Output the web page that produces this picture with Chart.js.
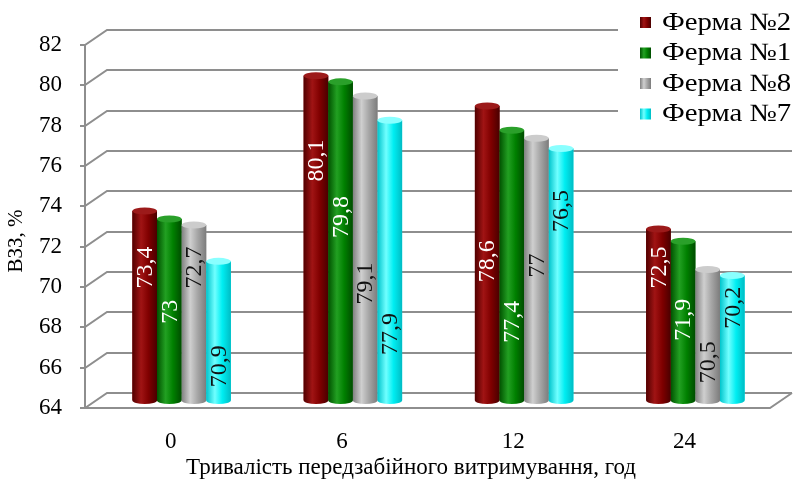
<!DOCTYPE html>
<html>
<head>
<meta charset="utf-8">
<script src="https://cdn.jsdelivr.net/npm/chart.js@4.4.1/dist/chart.umd.min.js"></script>
<style>
  body { margin: 0; background: #fff; }
  #wrap { width: 796px; height: 479px; }
</style>
</head>
<body>
<div id="wrap"><canvas id="bar-chart"></canvas></div>
<script>
const hours = ["0", "6", "12", "24"];
const farms = ["Ферма №2", "Ферма №1", "Ферма №8", "Ферма №7"];
const farm2 = [73.4, 80.1, 78.6, 72.5];
const farm1 = [73, 79.8, 77.4, 71.9];
const farm8 = [72.7, 79.1, 77, 70.5];
const farm7 = [70.9, 77.9, 76.5, 70.2];
const yTicks = [64, 66, 68, 70, 72, 74, 76, 78, 80, 82];

// where each value label is centred along its bar, in axis units
const labelAt = [
  [70.6, 75.9, 70.9, 70.6],
  [68.4, 73.1, 67.9, 68.0],
  [70.6, 69.8, 70.7, 65.9],
  [65.7, 67.3, 73.4, 68.6]
];

const serif = '"Liberation Serif", "Times New Roman", serif';
const depth = { dx: 22, dy: -15 };

// body colour, cylinder shading (edge, highlight, edge), top cap, label colour
const looks = [
  { base: "#800000", edge: "#520000", light: "#a01414", edge2: "#4a0000", cap: "#9c1a1a", text: "#ffffff" },
  { base: "#008000", edge: "#005200", light: "#22a022", edge2: "#004c00", cap: "#2aa02a", text: "#ffffff" },
  { base: "#a6a6a6", edge: "#808080", light: "#cfcfcf", edge2: "#7c7c7c", cap: "#cccccc", text: "#111111" },
  { base: "#00eef2", edge: "#00c4cc", light: "#70ffff", edge2: "#00bcc4", cap: "#8affff", text: "#111111" }
];

const fmt = v => String(v).replace(".", ",");

function shade(ctx, left, right, look) {
  const g = ctx.createLinearGradient(left, 0, right, 0);
  g.addColorStop(0, look.edge);
  g.addColorStop(0.35, look.light);
  g.addColorStop(0.65, look.base);
  g.addColorStop(1, look.edge2);
  return g;
}

const box3d = {
  id: "box3d",
  beforeDatasetsDraw(chart) {
    const { ctx, chartArea: a, scales: { y } } = chart;
    ctx.save();
    ctx.strokeStyle = "#8e8e8e";
    ctx.lineWidth = 2;
    yTicks.forEach(v => {
      const py = Math.round(y.getPixelForValue(v));
      ctx.beginPath();
      ctx.moveTo(a.left - 5, py);
      ctx.lineTo(a.left, py);
      ctx.lineTo(a.left + depth.dx, py + depth.dy);
      ctx.lineTo(a.right + depth.dx, py + depth.dy);
      ctx.stroke();
    });
    ctx.beginPath();
    ctx.moveTo(a.left, a.top);
    ctx.lineTo(a.left, a.bottom);
    ctx.lineTo(a.right, a.bottom);
    ctx.lineTo(a.right + depth.dx, a.bottom + depth.dy);
    ctx.stroke();
    ctx.restore();
    // bars stand halfway into the box
    ctx.save();
    ctx.translate(depth.dx / 2, depth.dy / 2);
  },
  afterDatasetsDraw(chart) {
    const { ctx, scales: { y } } = chart;
    chart.data.datasets.forEach((ds, i) => {
      const look = looks[i];
      chart.getDatasetMeta(i).data.forEach((bar, j) => {
        const w = bar.width, left = bar.x - w / 2, right = bar.x + w / 2;
        const ry = 3.5;
        ctx.fillStyle = shade(ctx, left, right, look);
        ctx.beginPath();
        ctx.moveTo(left, bar.y);
        ctx.lineTo(left, bar.base);
        ctx.ellipse(bar.x, bar.base, w / 2, ry, 0, Math.PI, 0, true);
        ctx.lineTo(right, bar.y);
        ctx.closePath();
        ctx.fill();
        ctx.fillStyle = look.cap;
        ctx.beginPath();
        ctx.ellipse(bar.x, bar.y, w / 2, ry, 0, 0, Math.PI * 2);
        ctx.fill();

        ctx.save();
        ctx.translate(bar.x + 1, y.getPixelForValue(labelAt[i][j]));
        ctx.rotate(-Math.PI / 2);
        ctx.fillStyle = look.text;
        ctx.font = "24px " + serif;
        ctx.textAlign = "center";
        ctx.textBaseline = "middle";
        ctx.fillText(fmt(ds.data[j]), 0, 0);
        ctx.restore();
      });
    });
    ctx.restore();
  },
  afterDraw(chart) {
    const { ctx } = chart;
    ctx.save();
    // legend box sits over the top right of the back wall
    ctx.fillStyle = "#ffffff";
    ctx.fillRect(618, 0, 178, 138);
    ctx.font = "25px " + serif;
    ctx.textBaseline = "middle";
    chart.data.datasets.forEach((ds, i) => {
      const cy = 22 + i * 30.5;
      ctx.fillStyle = shade(ctx, 640, 651, looks[i]);
      ctx.fillRect(640, cy - 5, 11, 11);
      ctx.save();
      ctx.translate(662, cy + 1);
      ctx.scale(1.15, 1);
      ctx.fillStyle = "#000";
      ctx.fillText(ds.label, 0, 0);
      ctx.restore();
    });

    ctx.fillStyle = "#000";
    ctx.textAlign = "center";
    ctx.font = "23px " + serif;
    ctx.fillText("Тривалість передзабійного витримування, год", 411, 468);
    ctx.translate(16, 241);
    ctx.rotate(-Math.PI / 2);
    ctx.font = "21px " + serif;
    ctx.fillText("ВЗЗ, %", 0, 0);
    ctx.restore();
  }
};

const series = [farm2, farm1, farm8, farm7];

new Chart(document.getElementById("bar-chart"), {
  type: "bar",
  data: {
    labels: hours,
    datasets: series.map((values, i) => ({
      label: farms[i],
      data: values,
      base: 64,
      backgroundColor: looks[i].base,
      borderWidth: 0
    }))
  },
  options: {
    responsive: true,
    maintainAspectRatio: false,
    animation: false,
    layout: { padding: { top: 45, right: 26, left: 0, bottom: 0 } },
    datasets: { bar: { categoryPercentage: 0.575, barPercentage: 1 } },
    plugins: { legend: { display: false }, tooltip: { enabled: false } },
    scales: {
      x: {
        grid: { display: false, drawTicks: false },
        border: { display: false },
        ticks: { color: "#000", padding: 20, font: { family: serif, size: 23 } },
        afterFit(scale) { scale.height = 71; }
      },
      y: {
        min: 64,
        max: 82,
        grid: { display: false, drawTicks: false },
        border: { display: false },
        ticks: { stepSize: 2, color: "#000", padding: 23, font: { family: serif, size: 23 } },
        afterFit(scale) { scale.width = 85; }
      }
    }
  },
  plugins: [box3d]
});
</script>
</body>
</html>
